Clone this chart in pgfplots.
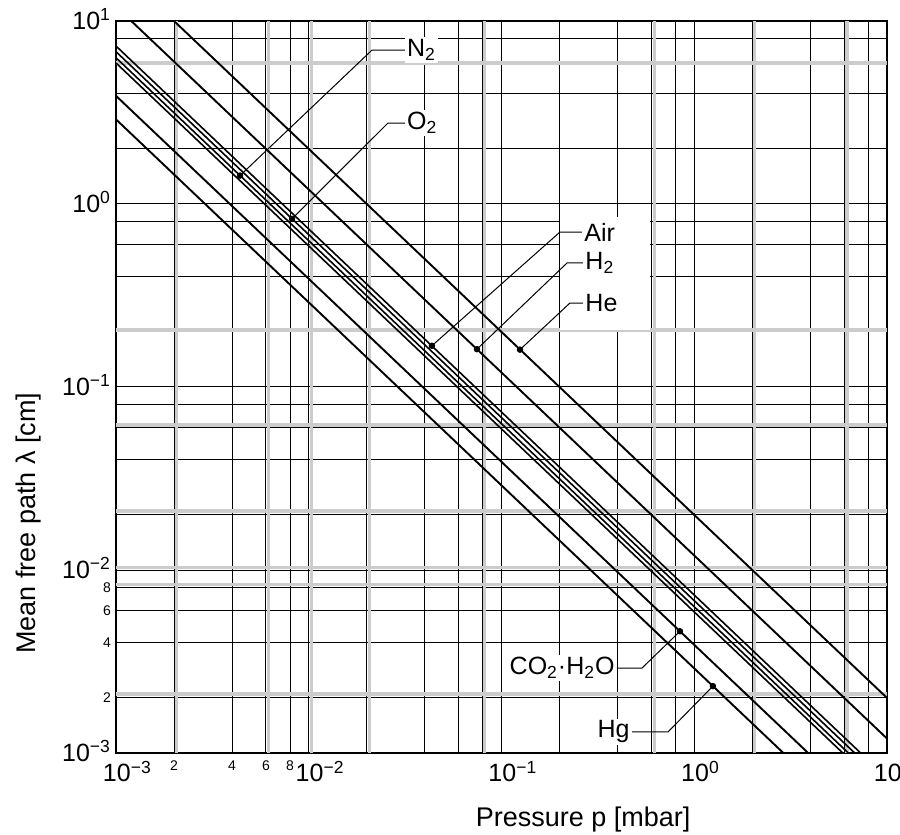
\documentclass[border=0pt]{standalone}
\usepackage{fontspec}
\setmainfont{Liberation Sans}
\usepackage{pgfplots}
\pgfplotsset{compat=1.18}
\newcommand{\maj}[1]{\fontsize{12.5}{12.5}\selectfont 10\smash{\textsuperscript{#1}}}
\newcommand{\xmaj}[1]{\makebox[0pt][l]{\hspace{-6.5pt}\fontsize{12.5}{12.5}\selectfont 10\textsuperscript{#1}}}
\newcommand{\mnr}[1]{\fontsize{7}{7}\selectfont #1}
\begin{document}
\begin{tikzpicture}
\useasboundingbox (0,0) rectangle (450pt,417.5pt);
\begin{axis}[
  at={(58pt,41pt)}, anchor=south west,
  scale only axis, width=385.5pt, height=366pt,
  xmode=log, ymode=log,
  xmin=0.001, xmax=10, ymin=0.001, ymax=10,
  xtick={0.001,0.002,0.004,0.006,0.008,0.01,0.1,1,10},
  xticklabels={\xmaj{−3},\mnr{2},\mnr{4},\mnr{6},\mnr{8},\xmaj{−2},\xmaj{−1},\xmaj{0},\xmaj{1}},
  ytick={0.001,0.002,0.004,0.006,0.008,0.01,0.1,1,10},
  yticklabels={\maj{−3},\mnr{2},\mnr{4},\mnr{6},\mnr{8},\maj{−2},\maj{−1},\maj{0},\maj{1}},
  minor xtick={0.02,0.04,0.06,0.08,0.2,0.4,0.6,0.8,2,4,6,8},
  minor ytick={0.02,0.04,0.06,0.08,0.2,0.4,0.6,0.8,2,4,6,8},
  extra x ticks={0.00206,0.0062,0.0103,0.0206,0.082,0.62,2.06,6.2},
  extra x tick labels={},
  extra y ticks={0.0021,0.0083,0.0103,0.021,0.062,0.205,5.9},
  extra y tick labels={},
  extra tick style={major grid style={gray!40, line width=1.6pt}},
  grid=both,
  major grid style={black, line width=0.5pt},
  minor grid style={black, line width=0.5pt},
  tick style={draw=none},
  axis line style={black, line width=0.8pt},
  xticklabel style={anchor=north, yshift=-0.5pt},
  yticklabel style={anchor=east, xshift=1pt},
  xlabel={Pressure p [mbar]},
  ylabel={Mean free path λ [cm]},
  label style={font=\fontsize{13.5}{14}\selectfont},
  xlabel style={at={(rel axis cs:0.606,-0.0915)}, anchor=center},
  ylabel style={at={(rel axis cs:-0.114,0.314)}, anchor=center},
  every axis plot/.append style={black},
]
% white area behind the Air / H2 / He labels
\fill[white] (axis cs:0.2011,0.2046) rectangle (axis cs:0.589,0.849);
% gas lines: lambda = const / p
\addplot[line width=0.95pt] coordinates {(0.001,20) (10,0.002)};      % He
\addplot[line width=0.95pt] coordinates {(0.001,12) (10,0.0012)};     % H2
\addplot[line width=0.8pt] coordinates {(0.001,7.3) (10,0.00073)};    % bundle
\addplot[line width=0.8pt] coordinates {(0.001,6.8) (10,0.00068)};
\addplot[line width=0.8pt] coordinates {(0.001,6.3) (10,0.00063)};
\addplot[line width=0.8pt] coordinates {(0.001,5.9) (10,0.00059)};
\addplot[line width=0.95pt] coordinates {(0.001,3.9) (10,0.00039)};   % CO2, H2O
\addplot[line width=0.95pt] coordinates {(0.001,2.9) (10,0.00029)};   % Hg
% leaders
\addplot[line width=0.5pt] coordinates {(0.0315,6.94) (0.0213,6.94) (0.0044,1.43)};
\addplot[line width=0.5pt] coordinates {(0.0315,2.77) (0.02576,2.77) (0.00819,0.83)};
\addplot[line width=0.5pt] coordinates {(0.2618,0.703) (0.2011,0.703) (0.04355,0.168)};
\addplot[line width=0.5pt] coordinates {(0.265,0.476) (0.2188,0.476) (0.0746,0.161)};
\addplot[line width=0.5pt] coordinates {(0.265,0.2877) (0.2265,0.2877) (0.1247,0.160)};
\addplot[line width=0.5pt] coordinates {(0.397,0.002913) (0.536,0.002913) (0.843,0.004626)};
\addplot[line width=0.5pt] coordinates {(0.475,0.001303) (0.731,0.001303) (1.25,0.00232)};
\addplot[only marks, mark=*, mark size=1.4pt] coordinates {(0.0044,1.43) (0.00819,0.83) (0.04355,0.168) (0.0746,0.161) (0.1247,0.160) (0.843,0.004626) (1.25,0.00232)};
% labels
\begin{scope}[every node/.style={font=\fontsize{12.5}{13}\selectfont, inner sep=1pt, fill=white}]
\node[anchor=west] at (axis cs:0.0315,6.94) {N\textsubscript{2}};
\node[anchor=west] at (axis cs:0.0315,2.77) {O\textsubscript{2}};
\node[anchor=west] at (axis cs:0.2618,0.703) {Air};
\node[anchor=west] at (axis cs:0.265,0.476) {H\textsubscript{2}};
\node[anchor=west] at (axis cs:0.265,0.2877) {He};
\node[anchor=east] at (axis cs:0.397,0.002913) {CO\textsubscript{2}·H\textsubscript{2}O};
\node[anchor=east] at (axis cs:0.475,0.001303) {Hg};
\end{scope}
\end{axis}
\end{tikzpicture}
\end{document}
